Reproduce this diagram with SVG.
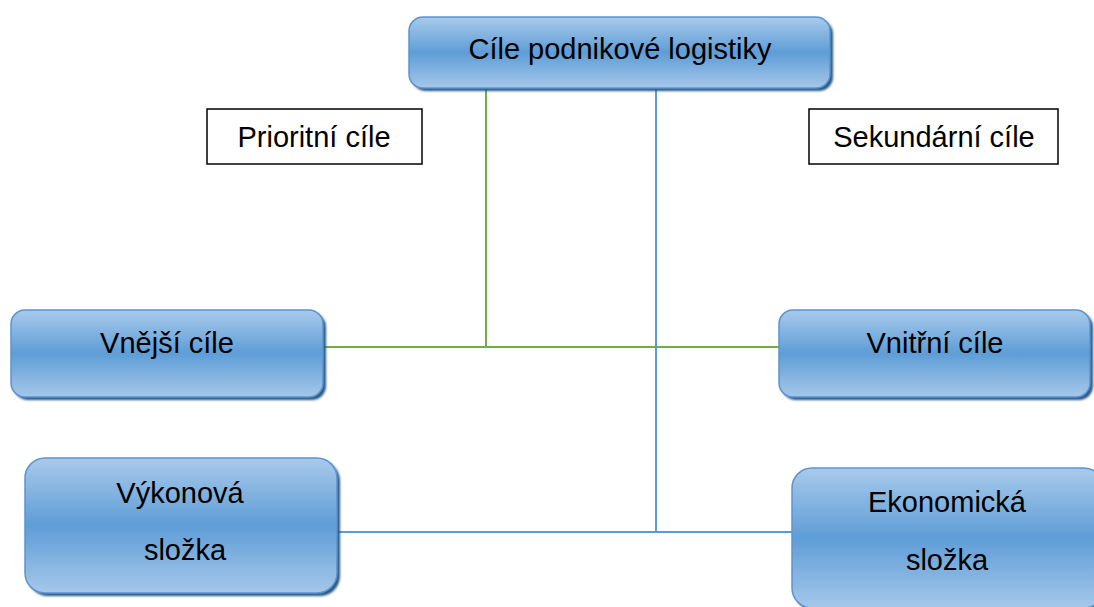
<svg xmlns="http://www.w3.org/2000/svg" width="1094" height="607" viewBox="0 0 1094 607">
  <defs>
    <linearGradient id="boxFill" x1="0" y1="0" x2="0" y2="1">
      <stop offset="0" stop-color="#a9caeb"/>
      <stop offset="0.5" stop-color="#5e9dd6"/>
      <stop offset="1" stop-color="#a6c7ea"/>
    </linearGradient>
    <filter id="soft" x="-5%" y="-5%" width="110%" height="115%">
      <feGaussianBlur stdDeviation="1"/>
    </filter>
  </defs>
  <style>
    .shadow { fill: #2c5985; filter: url(#soft); }
    .box { fill: url(#boxFill); stroke: #5b94cf; stroke-width: 1.5; }
    .label { fill: #fff; stroke: #000; stroke-width: 1.5; }
    text { font-family: "Liberation Sans", Arial, sans-serif; font-size: 29px; fill: #000; text-anchor: middle; }
    .green { stroke: #70ad47; stroke-width: 2; fill: none; }
    .blue { stroke: #5b9bd5; stroke-width: 2; fill: none; }
  </style>
  <rect width="1094" height="607" fill="#fff"/>

  <!-- connectors -->
  <g id="connectors">
    <polyline class="green" points="486,88 486,347"/>
    <polyline class="green" points="323,347 779,347"/>
    <polyline class="blue" points="656,88 656,532"/>
    <polyline class="blue" points="337,532 792,532"/>
  </g>

  <g id="node-root">
    <rect class="shadow" x="412" y="20" width="421" height="71" rx="14"/>
    <rect class="box" x="409" y="17" width="421" height="71" rx="14"/>
    <text x="620" y="59">Cíle podnikové logistiky</text>
  </g>

  <g id="label-prioritni">
    <rect class="label" x="207" y="109" width="215" height="55"/>
    <text x="314" y="147">Prioritní cíle</text>
  </g>

  <g id="label-sekundarni">
    <rect class="label" x="809" y="109" width="249" height="55"/>
    <text x="934" y="147">Sekundární cíle</text>
  </g>

  <g id="node-vnejsi">
    <rect class="shadow" x="14" y="313" width="312" height="87" rx="14"/>
    <rect class="box" x="11" y="310" width="312" height="87" rx="14"/>
    <text x="167" y="353">Vnější cíle</text>
  </g>

  <g id="node-vnitrni">
    <rect class="shadow" x="782" y="313" width="311" height="87" rx="14"/>
    <rect class="box" x="779" y="310" width="311" height="87" rx="14"/>
    <text x="935" y="353">Vnitřní cíle</text>
  </g>

  <g id="node-vykonova">
    <rect class="shadow" x="28" y="461" width="312" height="135" rx="20"/>
    <rect class="box" x="25" y="458" width="312" height="135" rx="20"/>
    <text x="180" y="503">Výkonová</text>
    <text x="185" y="560">složka</text>
  </g>

  <g id="node-ekonomicka">
    <rect class="shadow" x="795" y="471" width="312" height="140" rx="20"/>
    <rect class="box" x="792" y="468" width="312" height="140" rx="20"/>
    <text x="947" y="512">Ekonomická</text>
    <text x="947" y="570">složka</text>
  </g>
</svg>
